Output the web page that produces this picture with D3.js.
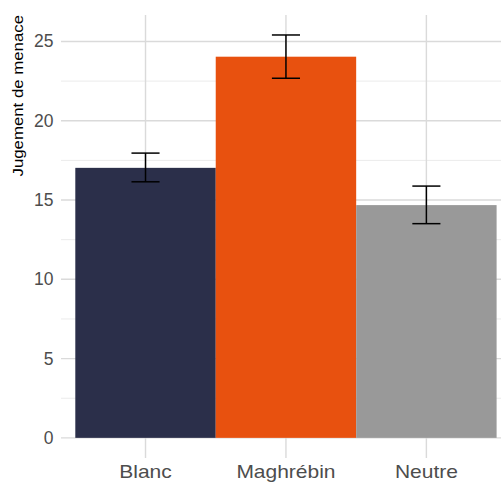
<!DOCTYPE html>
<html>
<head>
<meta charset="utf-8">
<script src="https://cdn.jsdelivr.net/npm/d3@7"></script>
<style>
  body { margin: 0; background: #fff; }
  svg { display: block; font-family: "Liberation Sans", Arial, sans-serif; }
</style>
</head>
<body>
<div id="chart"></div>
<script>
'use strict';

// Groups and their mean threat judgement, with error bar bounds
const groups = ["Blanc", "Maghrébin", "Neutre"];
const means = [17.03, 24.04, 14.68];
const lower = [16.15, 22.68, 13.51];
const upper = [17.96, 25.41, 15.88];
const barColors = ["#2b2f4a", "#e8510f", "#999999"];

const yTicks = [0, 5, 10, 15, 20, 25];
const yMinor = [2.5, 7.5, 12.5, 17.5, 22.5];

const width = 501;
const height = 482;
const panel = {left: 61, top: 15, bottom: 458};

const svg = d3.select("#chart").append("svg")
    .attr("width", width)
    .attr("height", height);

const x = d3.scaleBand()
    .domain(groups)
    .range([75.3, 496.6])
    .padding(0);

const y = d3.scaleLinear()
    .domain([-1.27, 26.67])
    .range([panel.bottom, panel.top]);

// grid lines
svg.append("g")
  .selectAll("line")
  .data(yMinor)
  .join("line")
    .attr("x1", panel.left).attr("x2", width)
    .attr("y1", d => y(d)).attr("y2", d => y(d))
    .attr("stroke", "#ebebeb")
    .attr("stroke-width", 1);

svg.append("g")
  .selectAll("line")
  .data(yTicks)
  .join("line")
    .attr("x1", panel.left).attr("x2", width)
    .attr("y1", d => y(d)).attr("y2", d => y(d))
    .attr("stroke", "#dadada")
    .attr("stroke-width", 1.4);

svg.append("g")
  .selectAll("line")
  .data(groups)
  .join("line")
    .attr("x1", d => x(d) + x.bandwidth() / 2)
    .attr("x2", d => x(d) + x.bandwidth() / 2)
    .attr("y1", panel.top).attr("y2", panel.bottom)
    .attr("stroke", "#dadada")
    .attr("stroke-width", 1.4);

// bars
svg.append("g")
  .selectAll("rect")
  .data(groups)
  .join("rect")
    .attr("x", d => x(d))
    .attr("width", x.bandwidth())
    .attr("y", (d, i) => y(means[i]))
    .attr("height", (d, i) => y(0) - y(means[i]))
    .attr("fill", (d, i) => barColors[i]);

// error bars
const capW = x.bandwidth() * 0.2;
const err = svg.append("g")
    .attr("stroke", "#000")
    .attr("stroke-width", 1.5)
    .attr("fill", "none");

groups.forEach((g, i) => {
  const cx = x(g) + x.bandwidth() / 2;
  err.append("line")
    .attr("x1", cx).attr("x2", cx)
    .attr("y1", y(lower[i])).attr("y2", y(upper[i]));
  err.append("line")
    .attr("x1", cx - capW / 2).attr("x2", cx + capW / 2)
    .attr("y1", y(upper[i])).attr("y2", y(upper[i]));
  err.append("line")
    .attr("x1", cx - capW / 2).attr("x2", cx + capW / 2)
    .attr("y1", y(lower[i])).attr("y2", y(lower[i]));
});

// y tick labels
svg.append("g")
  .selectAll("text")
  .data(yTicks)
  .join("text")
    .attr("x", 53.5)
    .attr("y", d => y(d) + 6)
    .attr("text-anchor", "end")
    .attr("font-size", 17.5)
    .attr("fill", "#4d4d4d")
    .text(d => d);

// x tick labels (slightly wide in the original render)
svg.append("g")
  .selectAll("text")
  .data(groups)
  .join("text")
    .attr("transform", d => `translate(${x(d) + x.bandwidth() / 2},477.5) scale(1.2,1)`)
    .attr("text-anchor", "middle")
    .attr("font-size", 17.5)
    .attr("fill", "#4d4d4d")
    .text(d => d);

// y axis title
svg.append("text")
    .attr("transform", "translate(22.5,15) rotate(-90) scale(1.2,1)")
    .attr("text-anchor", "end")
    .attr("font-size", 14)
    .attr("fill", "#000")
    .text("Jugement de menace");
</script>
</body>
</html>
